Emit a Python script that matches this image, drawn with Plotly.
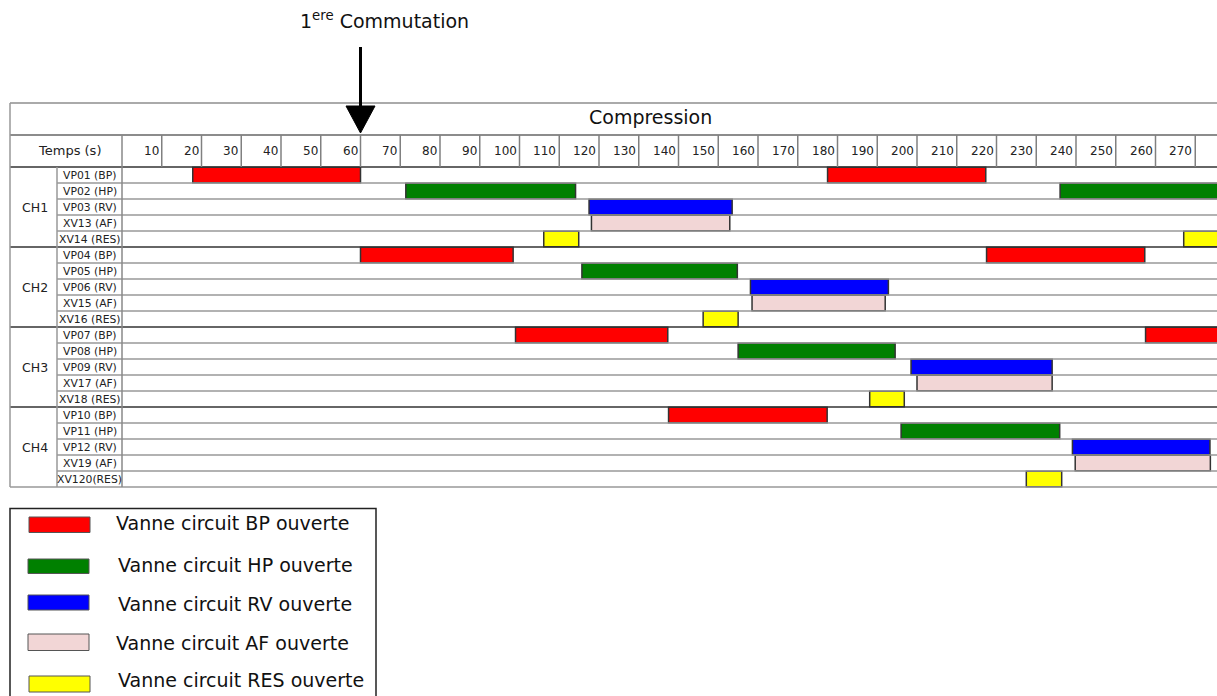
import plotly.graph_objects as go

W, H = 1217, 696

# ---------------- data ----------------
rows = ["VP01 (BP)", "VP02 (HP)", "VP03 (RV)", "XV13 (AF)", "XV14 (RES)",
        "VP04 (BP)", "VP05 (HP)", "VP06 (RV)", "XV15 (AF)", "XV16 (RES)",
        "VP07 (BP)", "VP08 (HP)", "VP09 (RV)", "XV17 (AF)", "XV18 (RES)",
        "VP10 (BP)", "VP11 (HP)", "VP12 (RV)", "XV19 (AF)", "XV120(RES)"]
chambers = ["CH1", "CH2", "CH3", "CH4"]
tick_labels = [10, 20, 30, 40, 50, 60, 70, 80, 90, 100, 110, 120, 130, 140,
               150, 160, 170, 180, 190, 200, 210, 220, 230, 240, 250, 260, 270]

bp_rows = ["VP01 (BP)", "VP01 (BP)", "VP04 (BP)", "VP04 (BP)", "VP07 (BP)", "VP07 (BP)", "VP10 (BP)"]
bp_start = [17.8, 177.5, 60.0, 217.5, 99.0, 257.5, 137.5]
bp_end = [60.0, 217.3, 98.4, 257.3, 137.3, 280.0, 177.4]

hp_rows = ["VP02 (HP)", "VP02 (HP)", "VP05 (HP)", "VP08 (HP)", "VP11 (HP)"]
hp_start = [71.4, 236.0, 115.7, 155.0, 196.0]
hp_end = [114.1, 280.0, 154.8, 194.5, 235.9]

rv_rows = ["VP03 (RV)", "VP06 (RV)", "VP09 (RV)", "VP12 (RV)"]
rv_start = [117.5, 158.1, 198.5, 239.1]
rv_end = [153.5, 192.8, 234.0, 273.7]

af_rows = ["XV13 (AF)", "XV15 (AF)", "XV17 (AF)", "XV19 (AF)"]
af_start = [118.1, 158.5, 200.0, 239.8]
af_end = [152.9, 192.0, 234.0, 273.8]

res_rows = ["XV14 (RES)", "XV14 (RES)", "XV16 (RES)", "XV18 (RES)", "XV120(RES)"]
res_start = [106.1, 267.1, 146.2, 188.1, 227.5]
res_end = [114.9, 280.0, 155.0, 196.8, 236.4]

legend_labels = ["Vanne circuit BP ouverte", "Vanne circuit HP ouverte",
                 "Vanne circuit RV ouverte", "Vanne circuit AF ouverte",
                 "Vanne circuit RES ouverte"]
colors = ["#FF0000", "#008000", "#0000FF", "#F2D6D6", "#FFFF00"]

commutation_time = 60

FONT = "DejaVu Sans"


def px(x):
    return x / W


def py(y):
    return 1 - y / H


fig = go.Figure()

series = [(bp_rows, bp_start, bp_end), (hp_rows, hp_start, hp_end),
          (rv_rows, rv_start, rv_end), (af_rows, af_start, af_end),
          (res_rows, res_start, res_end)]
for (r, s, e), col, name in zip(series, colors, legend_labels):
    fig.add_trace(go.Bar(
        y=[rows.index(v) for v in r],
        x=[b - a for a, b in zip(s, e)],
        base=s,
        orientation="h",
        width=0.97,
        marker=dict(color=col, line=dict(color="#333333", width=1.5)),
        name=name,
        showlegend=False,
        hoverinfo="skip",
    ))

shapes = []
ann = []

# ---- table lines ----
LEFT = px(10)
COL2 = px(57)
shapes.append(dict(type="line", xref="paper", yref="y", x0=LEFT, x1=1, y0=-4.5, y1=-4.5,
                   line=dict(color="#AAAAAA", width=2)))
shapes.append(dict(type="line", xref="paper", yref="y", x0=LEFT, x1=1, y0=-2.5, y1=-2.5,
                   line=dict(color="#666666", width=1.5)))
shapes.append(dict(type="line", xref="paper", yref="y", x0=LEFT, x1=1, y0=-0.5, y1=-0.5,
                   line=dict(color="#333333", width=1.5)))
for i in range(len(rows)):
    yb = i + 0.5
    if (i + 1) % 5 == 0:
        if i == len(rows) - 1:
            shapes.append(dict(type="line", xref="paper", yref="y", x0=LEFT, x1=1, y0=yb, y1=yb,
                               line=dict(color="#999999", width=1.5)))
        else:
            shapes.append(dict(type="line", xref="paper", yref="y", x0=LEFT, x1=1, y0=yb, y1=yb,
                               line=dict(color="#333333", width=1.5)))
    else:
        shapes.append(dict(type="line", xref="paper", yref="y", x0=COL2, x1=1, y0=yb, y1=yb,
                           line=dict(color="#999999", width=1.5)))
shapes.append(dict(type="line", xref="paper", yref="y", x0=LEFT, x1=LEFT, y0=-4.5, y1=19.5,
                   line=dict(color="#999999", width=1.5)))
shapes.append(dict(type="line", xref="paper", yref="y", x0=COL2, x1=COL2, y0=-0.5, y1=19.5,
                   line=dict(color="#999999", width=1.5)))
shapes.append(dict(type="line", xref="x", yref="y", x0=0, x1=0, y0=-2.5, y1=19.5,
                   line=dict(color="#888888", width=1.5)))
for t in tick_labels:
    shapes.append(dict(type="line", xref="x", yref="y", x0=t, x1=t, y0=-2.5, y1=-0.5,
                       line=dict(color="#808080", width=1.5)))
    ann.append(dict(x=t, y=-1.5, xref="x", yref="y", text=str(t), showarrow=False,
                    xanchor="right", yanchor="middle", xshift=-1,
                    font=dict(family=FONT, size=12, color="#222222")))

# header texts
ann.append(dict(x=px(650), y=-3.6, xref="paper", yref="y", text="Compression", showarrow=False,
                xanchor="center", yanchor="middle", font=dict(family=FONT, size=19, color="#111111")))
ann.append(dict(x=px(69), y=-1.55, xref="paper", yref="y", text="Temps (s)", showarrow=False,
                xanchor="center", yanchor="middle", font=dict(family=FONT, size=13, color="#222222")))
for i, lab in enumerate(rows):
    ann.append(dict(x=px(89.5), y=i, xref="paper", yref="y", text=lab, showarrow=False,
                    xanchor="center", yanchor="middle", font=dict(family=FONT, size=10.8, color="#222222")))
for k, ch in enumerate(chambers):
    ann.append(dict(x=px(35), y=5 * k + 2, xref="paper", yref="y", text=ch, showarrow=False,
                    xanchor="center", yanchor="middle", font=dict(family=FONT, size=12.5, color="#222222")))

# commutation arrow
shapes.append(dict(type="line", xref="x", yref="paper", x0=commutation_time, x1=commutation_time,
                   y0=py(47), y1=py(108), line=dict(color="black", width=3)))
shapes.append(dict(type="path", xref="x", xsizemode="pixel", xanchor=commutation_time, yref="paper",
                   path=f"M-14.5,{py(106)} L14.5,{py(106)} L0,{py(133)} Z",
                   fillcolor="black", line=dict(color="black", width=1)))
ann.append(dict(x=px(384), y=py(20), xref="paper", yref="paper",
                text="1<sup>ere</sup> Commutation", showarrow=False,
                xanchor="center", yanchor="middle", font=dict(family=FONT, size=19, color="#111111")))

# custom legend box
shapes.append(dict(type="rect", xref="paper", yref="paper", x0=px(10), x1=px(376),
                   y0=py(708), y1=py(508.5), line=dict(color="#222222", width=1.5),
                   fillcolor="rgba(0,0,0,0)"))
sw_y = [(517, 532.5), (559, 573.5), (595, 610), (634, 650.5), (676, 692)]
sw_x = [(29, 90), (28, 89), (28, 89), (28, 89), (29, 90)]
tx_x = [114, 116, 116, 114, 116]
tx_y = [522.5, 564.5, 604, 643, 680]
for k in range(5):
    shapes.append(dict(type="rect", xref="paper", yref="paper",
                       x0=px(sw_x[k][0]), x1=px(sw_x[k][1]),
                       y0=py(sw_y[k][1]), y1=py(sw_y[k][0]),
                       fillcolor=colors[k], line=dict(color="#555555", width=1)))
    ann.append(dict(x=px(tx_x[k]), y=py(tx_y[k]), xref="paper", yref="paper",
                    text=legend_labels[k], showarrow=False, xanchor="left", yanchor="middle",
                    font=dict(family=FONT, size=19, color="#111111")))

# axes: time axis -> pixel 122 at t=0, 3.975 px per second
x0_t = -122 / 3.975
x1_t = (W - 122) / 3.975
y_top = (0 - 175) / 16
y_bot = (H - 175) / 16

fig.update_layout(
    width=W, height=H,
    margin=dict(l=0, r=0, t=0, b=0, pad=0),
    paper_bgcolor="white", plot_bgcolor="white",
    barmode="overlay",
    xaxis=dict(range=[x0_t, x1_t], visible=False, fixedrange=True),
    yaxis=dict(range=[y_bot, y_top], visible=False, fixedrange=True),
    shapes=shapes,
    annotations=ann,
    showlegend=False,
)

fig.write_html("out.html",
               config={"displayModeBar": False},
               post_script="document.body.style.margin='0px';document.body.style.overflow='hidden';")
